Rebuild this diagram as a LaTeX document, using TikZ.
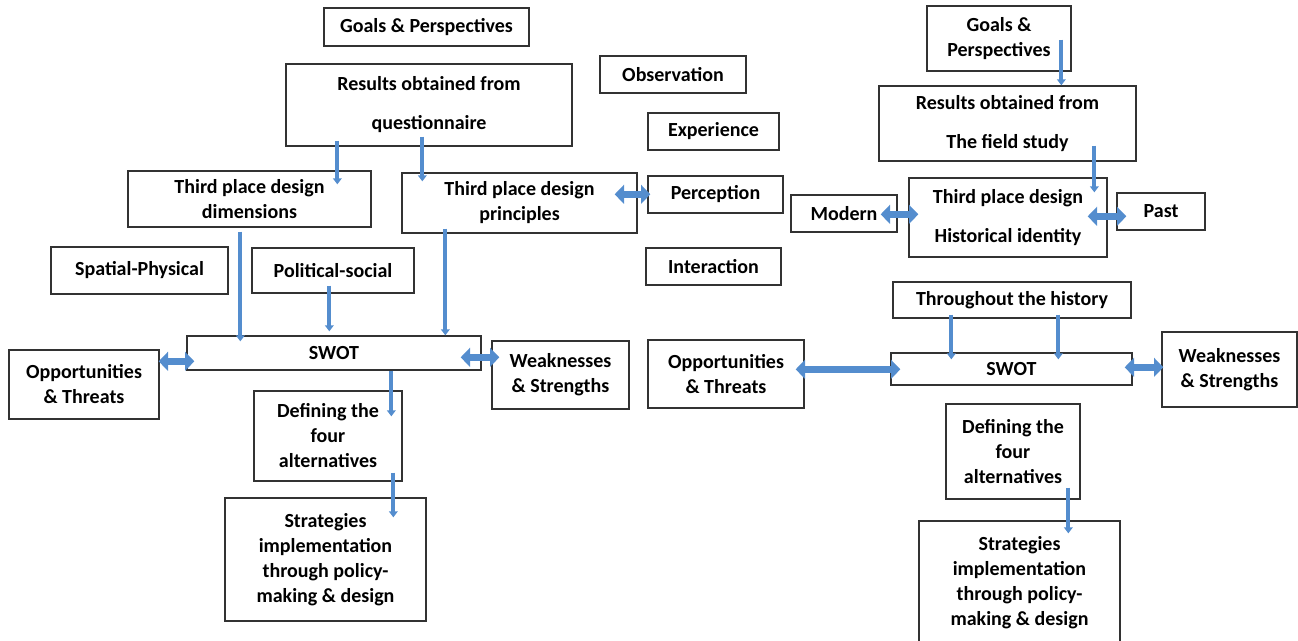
\documentclass[tikz,border=0pt]{standalone}
\usepackage{fontspec}
\setmainfont{Carlito}
\usetikzlibrary{arrows.meta,calc}
\definecolor{arrblue}{RGB}{84,141,206}
\definecolor{boxline}{RGB}{50,50,50}
\tikzset{
  box/.style={draw=boxline, line width=1pt, align=center, inner sep=0pt,
    font=\fontsize{15}{18.75}\selectfont\bfseries},
  arr/.style={draw=arrblue, line width=3pt, -{Triangle[width=6.5pt,length=4.5pt]}},
  dbl/.style={draw=arrblue, line width=5.5pt,
    {Triangle[width=14pt,length=7pt]}-{Triangle[width=14pt,length=7pt]}},
}
\newcommand{\bx}[6]{\node[box, minimum width={(#4-#2)*0.75pt}, minimum height={(#5-#3)*0.75pt}] (#1) at ({(#2+#4)/2},{(#3+#5)/2}) {#6};}
\begin{document}
\begin{tikzpicture}[x=0.75pt,y=-0.75pt]
\useasboundingbox (0,0) rectangle (1298,641);
% ---------- left diagram ----------
\bx{gpA}{324}{8}{529}{46}{Goals \& Perspectives}
\bx{resA}{286}{64}{572}{146}{Results obtained from\\[10.5pt]questionnaire}
\bx{obs}{600}{56}{746}{93}{Observation}
\bx{exp}{648}{113}{779}{150}{Experience}
\bx{dim}{128}{171}{371}{227}{Third place design\\dimensions}
\bx{pri}{402}{173}{637}{233}{Third place design\\principles}
\bx{per}{648}{176}{783}{213}{Perception}
\bx{spa}{51}{247}{228}{294}{Spatial-Physical}
\bx{pol}{252}{248}{414}{293}{Political-social}
\bx{int}{646}{248}{781}{285}{Interaction}
\bx{swA}{187}{336}{481}{370}{SWOT}
\bx{opA}{9}{350}{159}{419}{Opportunities\\\& Threats}
\bx{wkA}{492}{341}{629}{409}{Weaknesses\\\& Strengths}
\bx{dfA}{254}{391}{402}{481}{Defining the\\four\\alternatives}
\bx{stA}{225}{498}{426}{621}{Strategies\\implementation\\through policy-\\making \& design}
% ---------- right diagram ----------
\bx{gpB}{927}{6}{1071}{71}{Goals \&\\Perspectives}
\bx{resB}{879}{86}{1136}{161}{Results obtained from\\[10.5pt]The field study}
\bx{his}{909}{178}{1107}{257}{Third place design\\[10.5pt]Historical identity}
\bx{mod}{791}{195}{897}{232}{Modern}
\bx{pas}{1117}{193}{1205}{230}{Past}
\bx{thr}{893}{282}{1131}{318}{Throughout the history}
\bx{swB}{891}{353}{1132}{385}{SWOT}
\bx{opB}{648}{340}{804}{408}{Opportunities\\\& Threats}
\bx{wkB}{1162}{332}{1297}{407}{Weaknesses\\\& Strengths}
\bx{dfB}{946}{404}{1080}{499}{Defining the\\four\\alternatives}
\bx{stB}{919}{521}{1120}{645}{Strategies\\implementation\\through policy-\\making \& design}
% ---------- left arrows ----------
\draw[arr] ($(resA.south west)+(52,-6)$) -- ($(dim.north west)+(210,14)$);
\draw[arr] ($(resA.south west)+(137,-10)$) -- ($(pri.north west)+(21,9)$);
\draw[arr] ($(dim.south west)+(113,4)$) -- ($(swA.north west)+(54,6)$);
\draw[arr] ($(pol.south west)+(78,-8)$) -- ($(swA.north west)+(143,-4)$);
\draw[arr] ($(pri.south west)+(44,-5)$) -- ($(swA.north west)+(259,0)$);
\draw[arr] ($(swA.south west)+(205,0)$) -- ($(dfA.north west)+(138,26)$);
\draw[arr] ($(dfA.south west)+(140,-9)$) -- ($(stA.north west)+(169,20)$);
\draw[dbl] ($(pri.north east)+(-23,22)$) -- ($(per.north west)+(3,19)$);
\draw[dbl] ($(opA.north east)+(-1,12)$) -- ($(swA.north west)+(8,26)$);
\draw[dbl] ($(swA.north east)+(-21,22)$) -- ($(wkA.north west)+(8,17)$);
% ---------- right arrows ----------
\draw[arr] ($(gpB.south west)+(135,-32)$) -- ($(resB.north west)+(183,0)$);
\draw[arr] ($(resB.south west)+(216,-16)$) -- ($(his.north west)+(186,15)$);
\draw[dbl] ($(mod.north east)+(-17,20)$) -- ($(his.north west)+(10,37)$);
\draw[dbl] ($(his.north east)+(-20,39)$) -- ($(pas.north west)+(10,24)$);
\draw[arr] ($(thr.south west)+(59,-4)$) -- ($(swB.north west)+(61,7)$);
\draw[arr] ($(thr.south west)+(166,-4)$) -- ($(swB.north west)+(168,7)$);
\draw[dbl] ($(opB.north east)+(-9,30)$) -- ($(swB.north west)+(10,17)$);
\draw[dbl] ($(swB.north east)+(-8,15)$) -- ($(wkB.north west)+(2,36)$);
\draw[arr] ($(dfB.south west)+(123,-12)$) -- ($(stB.north west)+(150,13)$);
\end{tikzpicture}
\end{document}
